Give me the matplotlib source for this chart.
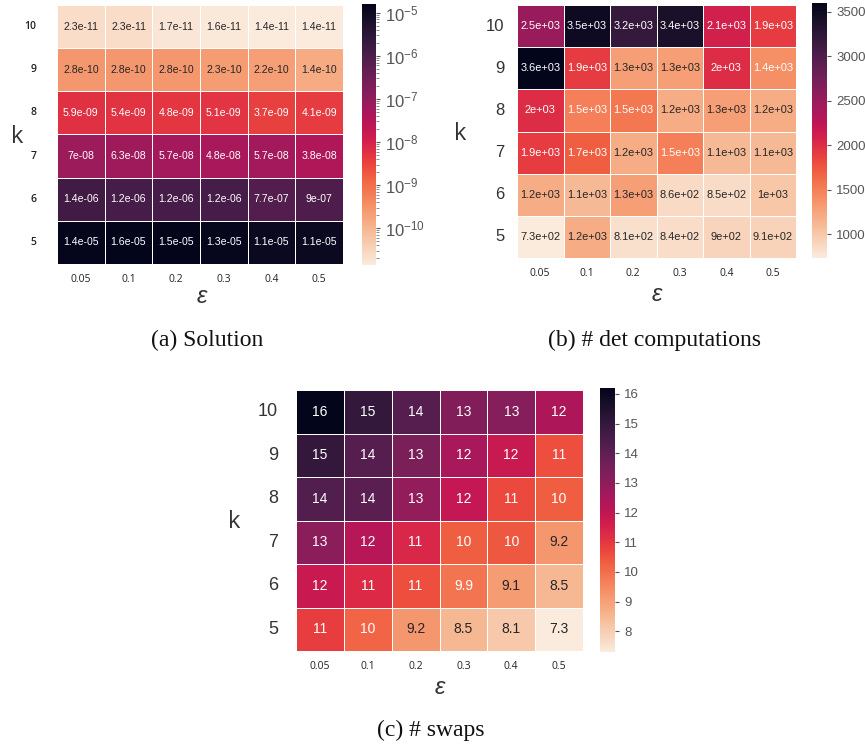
import matplotlib
matplotlib.use("Agg")
import matplotlib.pyplot as plt
import matplotlib.colors as mcolors
import numpy as np
import seaborn as sns

plt.rcParams["font.family"] = ["Liberation Sans", "DejaVu Sans"]
plt.rcParams["mathtext.fontset"] = "custom"
plt.rcParams["mathtext.rm"] = "Liberation Sans"
plt.rcParams["mathtext.it"] = "Liberation Sans:italic"

W, H = 865, 751

eps_labels = ["0.05", "0.1", "0.2", "0.3", "0.4", "0.5"]
k_labels = ["10", "9", "8", "7", "6", "5"]

# (a) solution value, rows k = 10 .. 5
solution = [
    [2.3e-11, 2.3e-11, 1.7e-11, 1.6e-11, 1.4e-11, 1.4e-11],
    [2.8e-10, 2.8e-10, 2.8e-10, 2.3e-10, 2.2e-10, 1.4e-10],
    [5.9e-09, 5.4e-09, 4.8e-09, 5.1e-09, 3.7e-09, 4.1e-09],
    [7.0e-08, 6.3e-08, 5.7e-08, 4.8e-08, 5.7e-08, 3.8e-08],
    [1.4e-06, 1.2e-06, 1.2e-06, 1.2e-06, 7.7e-07, 9.0e-07],
    [1.4e-05, 1.6e-05, 1.5e-05, 1.3e-05, 1.1e-05, 1.1e-05],
]

# (b) number of det computations
det_comps = [
    [2500, 3500, 3200, 3400, 2100, 1900],
    [3600, 1900, 1300, 1300, 2000, 1400],
    [2000, 1500, 1540, 1200, 1300, 1200],
    [1900, 1700, 1200, 1500, 1100, 1100],
    [1200, 1100, 1300, 860, 850, 1000],
    [730, 1200, 810, 840, 900, 910],
]

# (c) number of swaps
swaps = [
    [16.2, 15.0, 14.2, 13.3, 13.2, 12.4],
    [15.0, 14.2, 13.4, 12.5, 11.8, 10.6],
    [14.3, 14.1, 12.9, 11.9, 10.7, 10.3],
    [13.1, 12.2, 11.4, 10.3, 10.4, 9.2],
    [11.8, 11.3, 10.6, 9.9, 9.1, 8.5],
    [10.9, 10.2, 9.2, 8.5, 8.1, 7.3],
]


def px(x, y):
    return x / W, 1 - y / H


def box(left, top, right, bottom):
    return [left / W, 1 - bottom / H, (right - left) / W, (bottom - top) / H]


fig = plt.figure(figsize=(W / 100, H / 100), dpi=100)
fig.patch.set_facecolor("white")

panels = [
    dict(data=solution, ax=box(57, 5, 343, 264), cax=box(362, 4, 376, 265),
         norm=mcolors.LogNorm(vmin=1.4e-11, vmax=1.6e-5), annot=7.6, cbar_size=12,
         ytick=dict(size=7.5, weight="semibold"), ypad=15,
         k=(17, 137), eps=(202, 297), cap=(207, 340), caption="(a) Solution"),
    dict(data=det_comps, ax=box(517, 5, 796, 258), cax=box(812, 3, 827, 258),
         norm=None, annot=7.9, cbar_size=9.5, ytick=dict(size=12, weight="normal"), ypad=9,
         k=(460, 134), eps=(657, 295), cap=(655, 340),
         caption="(b) # det computations"),
    dict(data=swaps, ax=box(296, 390, 583, 651), cax=box(600, 388, 615, 652),
         norm=None, annot=10, cbar_size=9.5, ytick=dict(size=13, weight="normal"), ypad=13,
         k=(234, 522), eps=(440, 688), cap=(431, 730), caption="(c) # swaps"),
]

for p in panels:
    ax = fig.add_axes(p["ax"])
    cax = fig.add_axes(p["cax"])
    vals = np.array(p["data"], dtype=float)
    kws = {}
    if p["norm"] is not None:
        kws["norm"] = p["norm"]
    else:
        kws["vmin"] = vals.min()
        kws["vmax"] = vals.max()
    sns.heatmap(vals, ax=ax, cbar_ax=cax, cmap="rocket_r", annot=True, fmt=".2g",
                linewidths=0.7, linecolor="white",
                annot_kws={"fontsize": p["annot"], "family": "Liberation Sans"},
                xticklabels=eps_labels, yticklabels=k_labels, **kws)
    ax.tick_params(length=0)
    ax.tick_params(axis="x", pad=7)
    ax.tick_params(axis="y", pad=p["ypad"])
    for t in ax.get_xticklabels():
        t.set_fontfamily("Open Sans")
        t.set_fontsize(7.5)
        t.set_color("#222222")
        t.set_rotation(0)
    for t in ax.get_yticklabels():
        t.set_fontfamily("Open Sans" if p["ytick"]["weight"] == "semibold" else "Liberation Sans")
        t.set_fontsize(p["ytick"]["size"])
        t.set_fontweight(p["ytick"]["weight"])
        t.set_color("#222222" if p["ytick"]["weight"] == "semibold" else "#333333")
        t.set_rotation(0)

    cax.tick_params(which="major", length=3, width=0.8, color="#555555",
                    labelsize=p["cbar_size"], labelcolor="#555555")
    cax.tick_params(which="minor", length=2, width=0.6, color="#777777")
    for sp in cax.spines.values():
        sp.set_visible(False)

    fig.text(*px(*p["k"]), "k", fontsize=17, color="#333333",
             family="Open Sans", ha="center", va="center")
    fig.text(*px(*p["eps"]), "$\\varepsilon$", fontsize=17, color="#333333",
             ha="center", va="center")
    fig.text(*px(*p["cap"]), p["caption"], fontsize=17, color="#111111",
             family="Liberation Serif", ha="center", va="center")

fig.savefig("out.png", dpi=100, facecolor="white")
